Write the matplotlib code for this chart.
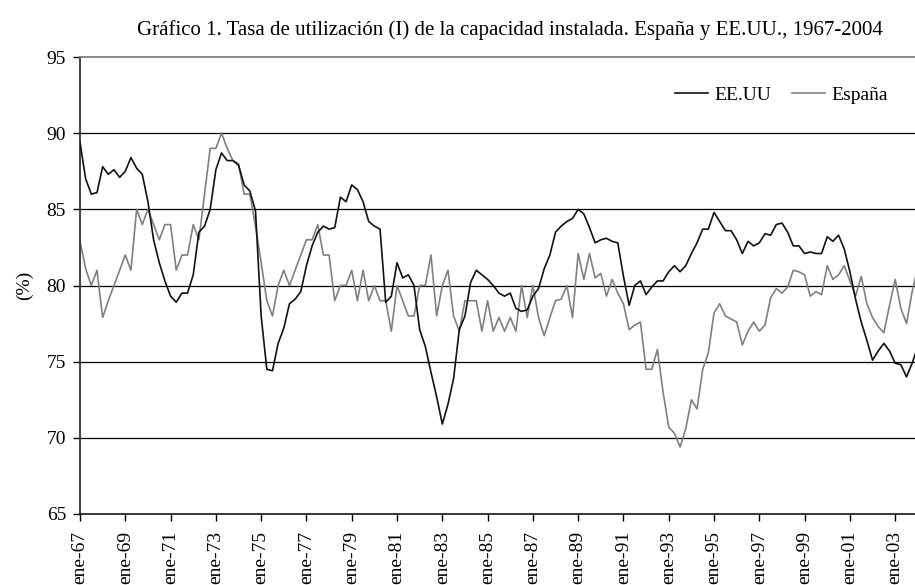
import matplotlib
matplotlib.use("Agg")
import matplotlib.pyplot as plt
import numpy as np

plt.rcParams['font.family'] = ['Liberation Serif', 'DejaVu Serif']

# quarterly series, ene-1967 .. ene-2004
eeuu = [89.4, 87.0, 86.0, 86.1, 87.8, 87.3, 87.6, 87.1, 87.5, 88.4,
        87.7, 87.3, 85.5, 83.0, 81.5, 80.3, 79.3, 78.9, 79.5, 79.5,
        80.7, 83.5, 83.9, 85.0, 87.6, 88.7, 88.2, 88.2, 87.9, 86.6,
        86.2, 84.9, 78.0, 74.5, 74.4, 76.2, 77.2, 78.8, 79.1, 79.6,
        81.3, 82.6, 83.5, 83.9, 83.7, 83.8, 85.8, 85.5, 86.6, 86.3,
        85.5, 84.2, 83.9, 83.7, 78.9, 79.3, 81.5, 80.5, 80.7, 80.0,
        77.1, 76.0, 74.3, 72.7, 70.9, 72.2, 73.9, 77.1, 78.0, 80.2,
        81.0, 80.7, 80.4, 80.0, 79.5, 79.3, 79.5, 78.5, 78.3, 78.4,
        79.3, 79.8, 81.1, 82.0, 83.5, 83.9, 84.2, 84.4, 85.0, 84.7,
        83.8, 82.8, 83.0, 83.1, 82.9, 82.8, 80.6, 78.7, 80.0, 80.3,
        79.4, 79.9, 80.3, 80.3, 80.9, 81.3, 80.9, 81.3, 82.1, 82.8,
        83.7, 83.7, 84.8, 84.2, 83.6, 83.6, 83.0, 82.1, 82.9, 82.6,
        82.8, 83.4, 83.3, 84.0, 84.1, 83.5, 82.6, 82.6, 82.1, 82.2,
        82.1, 82.1, 83.2, 82.9, 83.3, 82.4, 80.9, 79.1, 77.6, 76.4,
        75.1, 75.7, 76.2, 75.7, 74.9, 74.8, 74.0, 74.9, 76.0]

espana = [82.9, 81.1, 80.0, 81.0, 77.9, 79.0, 80.0, 81.0, 82.0, 81.0,
          85.0, 84.0, 85.0, 84.0, 83.0, 84.0, 84.0, 81.0, 82.0, 82.0,
          84.0, 83.0, 86.0, 89.0, 89.0, 90.0, 89.0, 88.2, 88.0, 86.0,
          86.0, 83.9, 81.5, 79.0, 78.0, 80.0, 81.0, 80.0, 81.0, 82.0,
          83.0, 83.0, 84.0, 82.0, 82.0, 79.0, 80.0, 80.0, 81.0, 79.0,
          81.0, 79.0, 80.0, 79.0, 79.0, 77.0, 80.0, 79.0, 78.0, 78.0,
          80.0, 80.0, 82.0, 78.0, 80.0, 81.0, 78.0, 77.0, 79.0, 79.0,
          79.0, 77.0, 79.0, 77.0, 77.9, 77.0, 77.9, 77.0, 80.0, 77.9,
          80.0, 77.9, 76.7, 77.9, 79.0, 79.1, 80.0, 77.9, 82.1, 80.4,
          82.1, 80.5, 80.8, 79.3, 80.4, 79.5, 78.8, 77.1, 77.4, 77.6,
          74.5, 74.5, 75.8, 73.0, 70.7, 70.3, 69.4, 70.6, 72.5, 71.9,
          74.5, 75.6, 78.2, 78.8, 78.0, 77.8, 77.6, 76.1, 77.0, 77.6,
          77.0, 77.4, 79.2, 79.8, 79.5, 79.9, 81.0, 80.9, 80.7, 79.3,
          79.6, 79.4, 81.3, 80.4, 80.7, 81.3, 80.3, 79.3, 80.6, 78.8,
          77.9, 77.3, 76.9, 78.7, 80.4, 78.5, 77.5, 79.6, 81.2]

tick_labels = ['ene-67', 'ene-69', 'ene-71', 'ene-73', 'ene-75', 'ene-77',
               'ene-79', 'ene-81', 'ene-83', 'ene-85', 'ene-87', 'ene-89',
               'ene-91', 'ene-93', 'ene-95', 'ene-97', 'ene-99', 'ene-01',
               'ene-03']
y_ticks = [65, 70, 75, 80, 85, 90, 95]

fig = plt.figure(figsize=(9.15, 5.85), dpi=100)
ax = fig.add_axes([80 / 915, 1 - 514 / 585, 1 - 80 / 915, (514 - 57) / 585])

x = np.arange(len(eeuu))
ax.plot(x, eeuu, color='#111111', lw=1.2, label='EE.UU', zorder=3)
ax.plot(x, espana, color='#808080', lw=1.2, label='España', zorder=2)

ax.set_xlim(0, 147.5)
ax.set_ylim(65, 95)
ax.set_yticks(y_ticks)
ax.set_xticks(np.arange(0, 8 * len(tick_labels), 8))
ax.set_xticklabels(tick_labels, rotation=90, fontsize=14)
ax.tick_params(axis='y', labelsize=14, length=5, width=1, pad=5)
ax.tick_params(axis='x', length=5, width=1, pad=7)
for v in y_ticks[1:-1]:
    ax.axhline(v, color='black', lw=0.9, zorder=1)

ax.spines['right'].set_visible(False)
ax.spines['top'].set_color('#808080')
ax.spines['top'].set_linewidth(1.3)
ax.spines['left'].set_color('#333333')
ax.spines['left'].set_linewidth(1.3)
ax.spines['bottom'].set_linewidth(1.1)

ax.set_ylabel('(%)', fontsize=14, labelpad=10)
fig.text(0.557, 0.948, 'Gráfico 1. Tasa de utilización (I) de la capacidad instalada. '
         'España y EE.UU., 1967-2004', ha='center', va='center', fontsize=15)

ax.legend(loc='upper right', bbox_to_anchor=(0.988, 0.975), ncol=2, frameon=False,
          fontsize=14, handlelength=1.7, handletextpad=0.3, columnspacing=1.1)

fig.savefig('out.png', dpi=100)
